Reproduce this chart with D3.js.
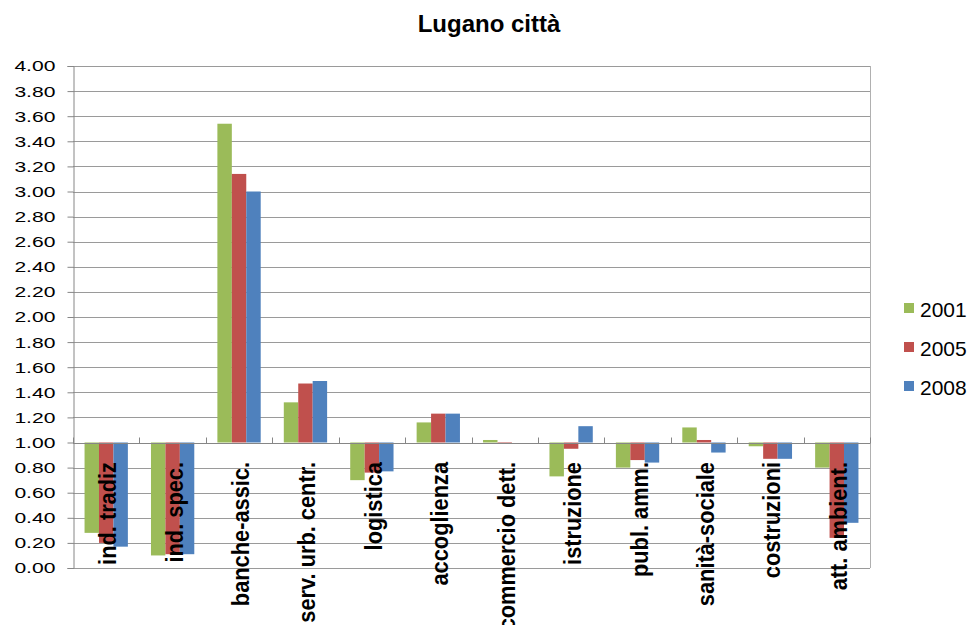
<!DOCTYPE html>
<html>
<head>
<meta charset="utf-8">
<script src="https://cdn.jsdelivr.net/npm/d3@7"></script>
<style>
  html, body { margin: 0; padding: 0; background: #fff; }
  svg { display: block; font-family: "Liberation Sans", Arial, sans-serif; }
</style>
</head>
<body>
<svg id="chart" width="970" height="625"></svg>
<script>
const title = "Lugano città";
const categories = ["ind. tradiz", "ind. spec.", "banche-assic.", "serv. urb. centr.", "logistica", "accoglienza", "commercio dett.", "istruzione", "publ. amm.", "sanità-sociale", "costruzioni", "att. ambient."];
const seriesNames = ["2001", "2005", "2008"];
const v2001 = [0.28, 0.10, 3.54, 1.32, 0.70, 1.16, 1.02, 0.73, 0.80, 1.12, 0.97, 0.80];
const v2005 = [0.20, 0.11, 3.14, 1.47, 0.76, 1.23, 0.99, 0.95, 0.86, 1.02, 0.87, 0.24];
const v2008 = [0.17, 0.11, 3.00, 1.49, 0.77, 1.23, 1.00, 1.13, 0.84, 0.92, 0.87, 0.36];
const yTicks = [0, 0.2, 0.4, 0.6, 0.8, 1.0, 1.2, 1.4, 1.6, 1.8, 2.0, 2.2, 2.4, 2.6, 2.8, 3.0, 3.2, 3.4, 3.6, 3.8, 4.0];
const baseValue = 1.0;
const colors = ["#9BBB59", "#C0504D", "#4F81BD"];

(function () {
const seriesValues = [v2001, v2005, v2008];
const svg = d3.select("#chart");
const pLeft = 73, pRight = 870, pTop = 66, pBottom = 568;

const y = d3.scaleLinear().domain([0, 4]).range([pBottom, pTop]);
const x = d3.scaleBand().domain(categories).range([pLeft, pRight]).paddingInner(0).paddingOuter(0);
const xs = d3.scaleBand().domain(seriesNames).range([0, x.bandwidth()]).paddingInner(0).paddingOuter(0.8);

// gridlines
svg.append("g").selectAll("line").data(yTicks).join("line")
  .attr("x1", pLeft).attr("x2", pRight)
  .attr("y1", d => Math.round(y(d)) + 0.5).attr("y2", d => Math.round(y(d)) + 0.5)
  .attr("stroke", "#9a9a9a").attr("stroke-width", 1);

// right border
svg.append("line").attr("x1", pRight + 0.5).attr("x2", pRight + 0.5)
  .attr("y1", pTop).attr("y2", pBottom).attr("stroke", "#b0b0b0");

// y axis
const yAxis = svg.append("g").attr("transform", `translate(${pLeft + 0.5},0)`)
  .call(d3.axisLeft(y).tickValues(yTicks).tickFormat(d3.format(".2f")).tickSize(6).tickPadding(0));
yAxis.select(".domain").attr("stroke", "#868686");
yAxis.selectAll(".tick line").attr("stroke", "#868686");
yAxis.selectAll(".tick text")
  .attr("x", -13.3)
  .attr("font-size", 15.5)
  .attr("fill", "#000")
  .attr("font-family", "Liberation Sans, Arial, sans-serif")
  .attr("transform", "scale(1.36,1)");

// bars
const data = [];
categories.forEach((c, i) => {
  seriesNames.forEach((s, j) => data.push({ c, s, v: seriesValues[j][i], color: colors[j] }));
});
svg.append("g").selectAll("rect").data(data).join("rect")
  .attr("x", d => x(d.c) + xs(d.s))
  .attr("width", xs.bandwidth())
  .attr("y", d => Math.min(y(d.v), y(baseValue)))
  .attr("height", d => Math.abs(y(d.v) - y(baseValue)))
  .attr("fill", d => d.color);

// category axis at baseline 1.0
const xAxisG = svg.append("g").attr("transform", `translate(0,${Math.round(y(baseValue)) + 0.5})`);
xAxisG.append("line").attr("x1", pLeft).attr("x2", pRight).attr("stroke", "#868686");
const bounds = d3.range(categories.length + 1).map(i => pLeft + i * x.step());
xAxisG.selectAll("line.tk").data(bounds).join("line").attr("class", "tk")
  .attr("x1", d => Math.round(d) + 0.5).attr("x2", d => Math.round(d) + 0.5)
  .attr("y1", -6).attr("y2", 0).attr("stroke", "#868686");

// category labels
svg.append("g").selectAll("text").data(categories).join("text")
  .attr("transform", d => `translate(${x(d) + x.bandwidth() / 2 + 10},462) rotate(-90) scale(1,1.1)`)
  .attr("text-anchor", "end")
  .attr("font-size", 21.8)
  .attr("font-weight", "bold")
  .attr("fill", "#000")
  .text(d => d);

// title
svg.append("text").attr("x", 489).attr("y", 32).attr("text-anchor", "middle")
  .attr("font-size", 24).attr("font-weight", "bold").attr("fill", "#000").text(title);

// legend
const lg = svg.append("g").selectAll("g").data(seriesNames).join("g")
  .attr("transform", (d, i) => `translate(904,${303 + i * 39})`);
lg.append("rect").attr("width", 10).attr("height", 10).attr("fill", (d, i) => colors[i]);
lg.append("text").attr("x", 16).attr("y", 14).attr("font-size", 20).attr("fill", "#000")
  .attr("transform", "translate(16,0) scale(1.05,1) translate(-16,0)").text(d => d);
})();
</script>
</body>
</html>
